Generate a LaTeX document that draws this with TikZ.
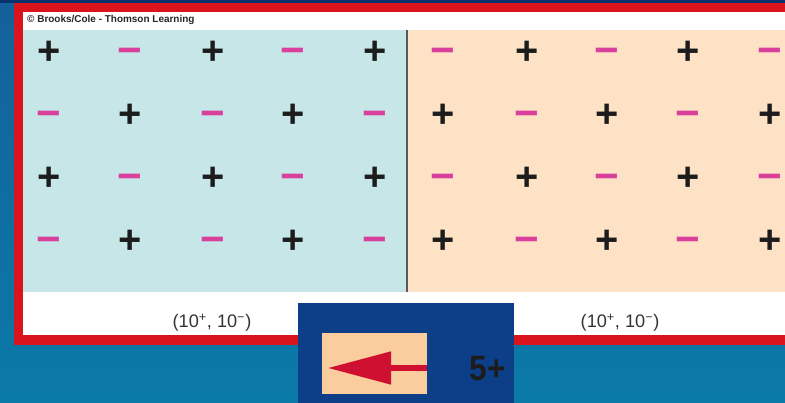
\documentclass[tikz,border=0pt]{standalone}
\usepackage{fontspec}
\setmainfont{Liberation Sans}
\usepackage{xcolor}
\usepackage{tikz}
\usetikzlibrary{arrows.meta, positioning, calc}

\definecolor{bgtop}{HTML}{14609A}
\definecolor{bgbottom}{HTML}{0A7AA8}
\definecolor{framered}{HTML}{D9141C}
\definecolor{cellblue}{HTML}{C6E6E8}
\definecolor{cellpeach}{HTML}{FDE2C6}
\definecolor{keypeach}{HTML}{F9CD9E}
\definecolor{keyblue}{HTML}{0C3F87}
\definecolor{minuspink}{HTML}{D8409C}
\definecolor{plusblack}{HTML}{1C1C1C}
\definecolor{arrowred}{HTML}{CF1030}

\begin{document}
\begin{tikzpicture}[
    x=0.03cm, y=-0.03cm,
    poscharge/.style={anchor=base, inner sep=0pt, text=plusblack, font=\fontsize{34}{34}\selectfont\bfseries},
    negcharge/.style={anchor=base, inner sep=0pt, text=minuspink, font=\fontsize{36}{36}\selectfont\bfseries},
    conc/.style={inner sep=0pt, text=black!80, font=\fontsize{15.5}{16}\selectfont},
    legend/.style={draw=none, fill=keypeach, inner sep=0pt, minimum width=3.15cm, minimum height=1.83cm},
    flow/.style={draw=arrowred, line width=5pt, -{Triangle[length=54pt, width=27pt]}}
]
\useasboundingbox (0,0) rectangle (785,403);

% backdrop and frame
\shade[top color=bgtop, bottom color=bgbottom] (0,0) rectangle (785,403);
\fill[keyblue!80!black] (0,0) rectangle (785,3);
\fill[framered] (14,3) rectangle (800,345);
\fill[white] (23,12) rectangle (800,335);
\fill[cellblue] (23,30) rectangle (407,292);
\fill[cellpeach] (407,30) rectangle (800,292);
\draw[gray!70!black, line width=1.4pt] (407,30) -- (407,292);

\node[anchor=west, inner sep=0pt, text=black!85, font=\fontsize{8.5}{9}\selectfont\bfseries] (credit) at (27,20) {\textcopyright{} Brooks/Cole - Thomson Learning};

% ions on both sides
\foreach \r/\y in {0/52,1/115,2/178,3/241}
  \foreach \c/\x in {0/49,1/130,2/213,3/293,4/375,5/443,6/527,7/607,8/688,9/770} {
    \pgfmathparse{int(mod(\r+\c,2))}
    \ifnum\pgfmathresult=0
      \node[poscharge] (q-\r-\c) at (\x,\y+13) {+};
    \else
      \node[negcharge] (q-\r-\c) at (\x,\y+13) {−};
    \fi
  }

\node[conc] (leftconc) at (212,323) {(10\textsuperscript{+}, 10\textsuperscript{−})};
\node[conc] (rightconc) at (620,323) {(10\textsuperscript{+}, 10\textsuperscript{−})};

% net flow key
\fill[keyblue] (298,303) rectangle (514,403);
\node[legend] (key) at (374.5,363.5) {};
\coordinate (tail) at ($(key.east)+(0,4.5)$);
\coordinate (tip) at ($(key.west)+(6,4.5)$);
\draw[flow] (tail) -- (tip);
\fill[arrowred] ($(tail)+(-10,0)$) circle[radius=2.8pt];
\node[text=plusblack, inner sep=0pt, font=\fontsize{30}{30}\selectfont\bfseries, xscale=0.9] (netcharge) at (488,369) {5+};

\end{tikzpicture}
\end{document}
